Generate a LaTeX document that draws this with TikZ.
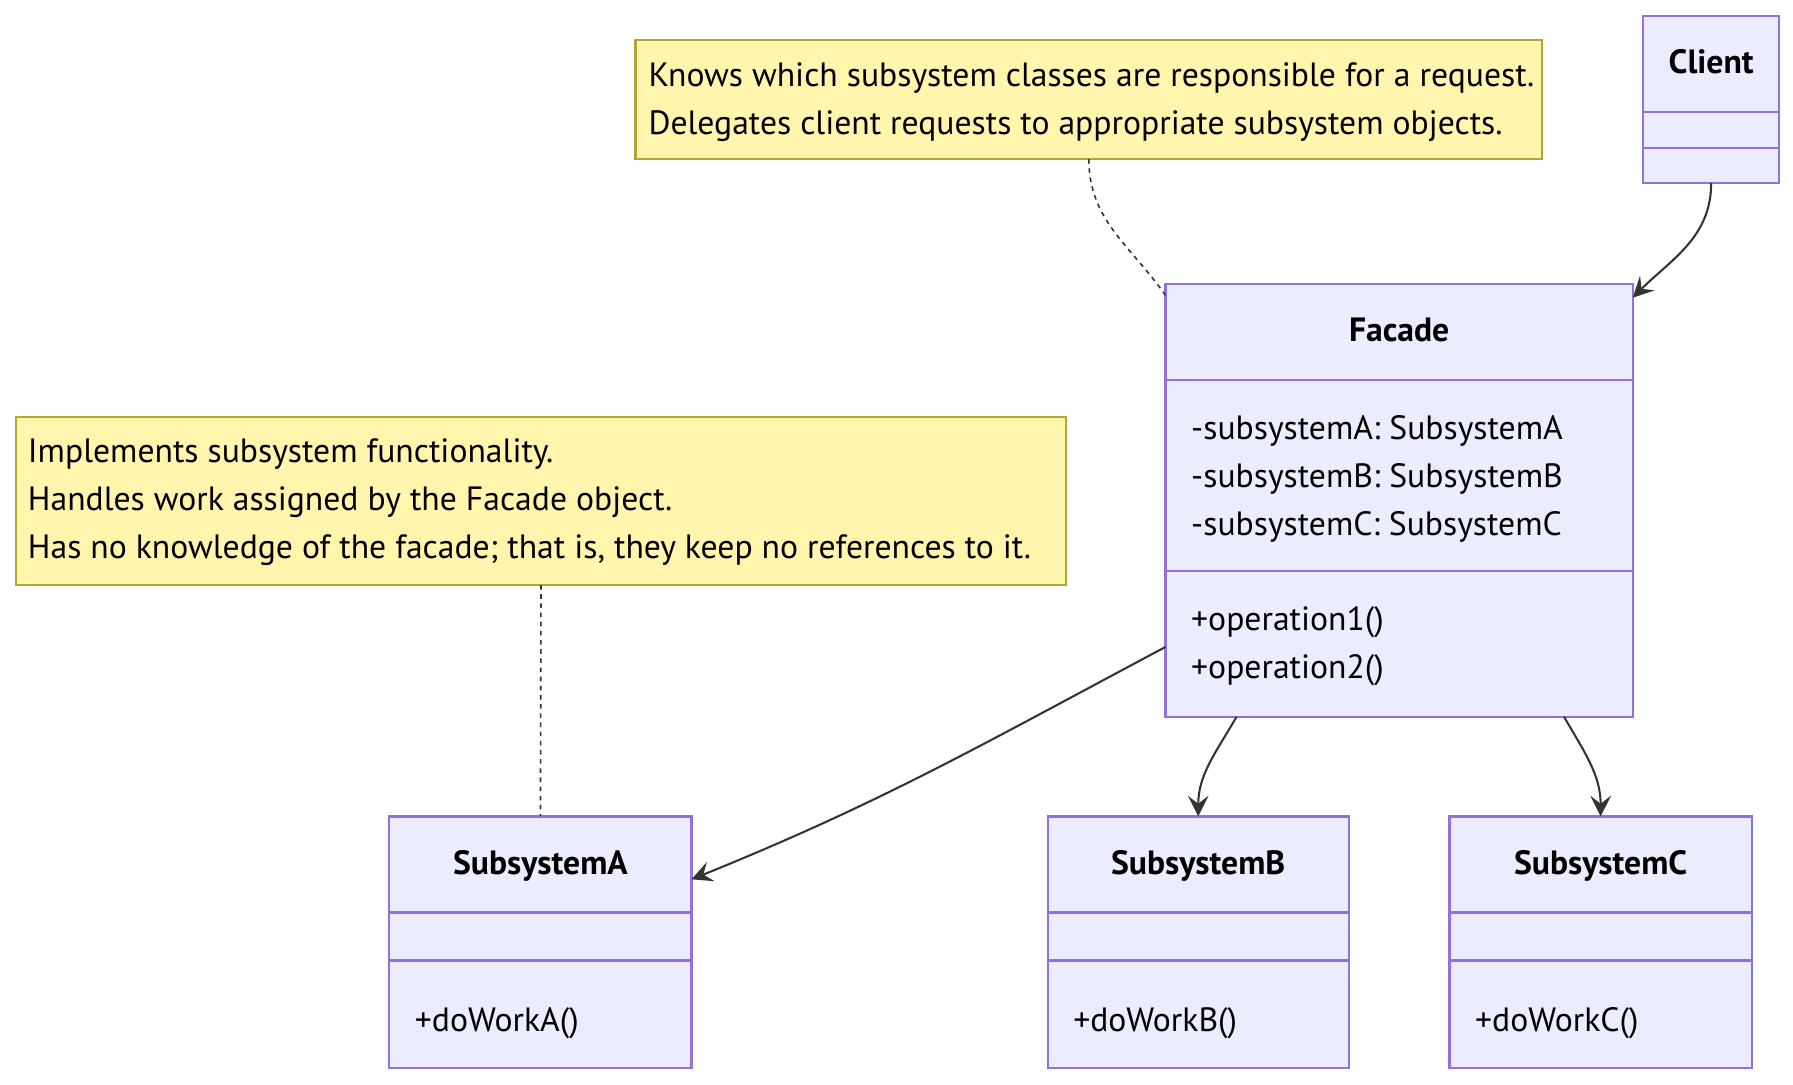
\documentclass[tikz,border=0pt]{standalone}
\usepackage{fontspec}
\setmainfont{PT Sans}
\usetikzlibrary{arrows.meta}

\definecolor{classfill}{HTML}{ECECFF}
\definecolor{classborder}{HTML}{9370DB}
\definecolor{notefill}{HTML}{FFF5AD}
\definecolor{noteborder}{HTML}{AAAA33}
\definecolor{linkgray}{HTML}{333333}

\tikzset{
  classbox/.style={draw=classborder, fill=classfill, line width=1pt, anchor=north west, inner sep=0pt, outer sep=0pt},
  notebox/.style={draw=noteborder, fill=notefill, line width=1pt, anchor=north west, inner sep=0pt, outer sep=0pt},
  notetext/.style={font=\fontsize{14.7}{21}\selectfont, align=left, anchor=west, inner sep=0pt},
  divider/.style={draw=classborder, line width=1pt},
  classname/.style={font=\fontsize{14.7}{21}\selectfont\bfseries, inner sep=0pt, text height=11pt, text depth=1.5pt},
  member/.style={font=\fontsize{14.7}{21}\selectfont, anchor=west, inner sep=0pt, text height=11pt, text depth=1.5pt},
  assoc/.style={draw=linkgray, line width=0.9pt, -{Stealth[length=9pt, width=9pt, inset=3.5pt]}},
  notelink/.style={draw=linkgray, line width=0.7pt, dash pattern=on 2pt off 2pt},
}

\begin{document}
\begin{tikzpicture}[x=0.5pt, y=-0.5pt]
        \useasboundingbox (0,0) rectangle (1566,947);
        \fill[white] (0,0) rectangle (1566,947);

        % notes
        \node[notebox, minimum width=396pt, minimum height=52pt] (facadenote) at (555,35) {};
        \node[notetext] (facadenotetext) at ([xshift=5.5pt, yshift=-1.2pt]facadenote.west)
            {Knows which subsystem classes are responsible for a request.\\Delegates client requests to appropriate subsystem objects.};
        \node[notebox, minimum width=458.5pt, minimum height=73.5pt] (subsysnote) at (14,364) {};
        \node[notetext] (subsysnotetext) at ([xshift=5pt, yshift=-0.6pt]subsysnote.west)
            {Implements subsystem functionality.\\Handles work assigned by the Facade object.\\Has no knowledge of the facade; that is, they keep no references to it.};

        % Client
        \node[classbox, minimum width=59.5pt, minimum height=73pt] (client) at (1435,14) {};
        \draw[divider] (1435,98) -- (1554,98);
        \draw[divider] (1435,129) -- (1554,129);
        \node[classname] (clientname) at (1494.5,55) {Client};

        % Facade
        \node[classbox, minimum width=204pt, minimum height=189pt] (facade) at (1018,248) {};
        \draw[divider] (1018,332) -- (1426,332);
        \draw[divider] (1018,499) -- (1426,499);
        \node[classname] (facadename) at (1222,289) {Facade};
        \node[member] (facadeattra) at (1040,374) {-subsystemA: SubsystemA};
        \node[member] (facadeattrb) at (1040,416) {-subsystemB: SubsystemB};
        \node[member] (facadeattrc) at (1040,458) {-subsystemC: SubsystemC};
        \node[member] (facadeop1) at (1040,541) {+operation1()};
        \node[member] (facadeop2) at (1040,583) {+operation2()};

        % subsystems
        \node[classbox, minimum width=132pt, minimum height=110pt] (suba) at (340,713) {};
        \draw[divider] (340,797) -- (604,797);
        \draw[divider] (340,839) -- (604,839);
        \node[classname] (subaname) at (472,754) {SubsystemA};
        \node[member] (subaop) at (362,891) {+doWorkA()};

        \node[classbox, minimum width=131.5pt, minimum height=110pt] (subb) at (915,713) {};
        \draw[divider] (915,797) -- (1178,797);
        \draw[divider] (915,839) -- (1178,839);
        \node[classname] (subbname) at (1046.5,754) {SubsystemB};
        \node[member] (subbop) at (937,891) {+doWorkB()};

        \node[classbox, minimum width=132pt, minimum height=110pt] (subc) at (1266,713) {};
        \draw[divider] (1266,797) -- (1530,797);
        \draw[divider] (1266,839) -- (1530,839);
        \node[classname] (subcname) at (1398,754) {SubsystemC};
        \node[member] (subcop) at (1288,891) {+doWorkC()};

        % links
        \draw[assoc] (client.south) to[out=-90, in=45] ([yshift=-6pt]facade.north east);
        \draw[assoc] ([yshift=-64pt]facade.west) to[out=208, in=22] ([yshift=27.5pt]suba.east);
        \draw[assoc] ([xshift=-71pt]facade.south) to[out=-120, in=90] (subb.north);
        \draw[assoc] ([xshift=72pt]facade.south) to[out=-60, in=90] (subc.north);

        \draw[notelink] (facadenote.south) to[out=-90, in=125] ([yshift=-5pt]facade.north west);
        \draw[notelink] (subsysnote.south) -- (suba.north);
    \end{tikzpicture}
\end{document}
